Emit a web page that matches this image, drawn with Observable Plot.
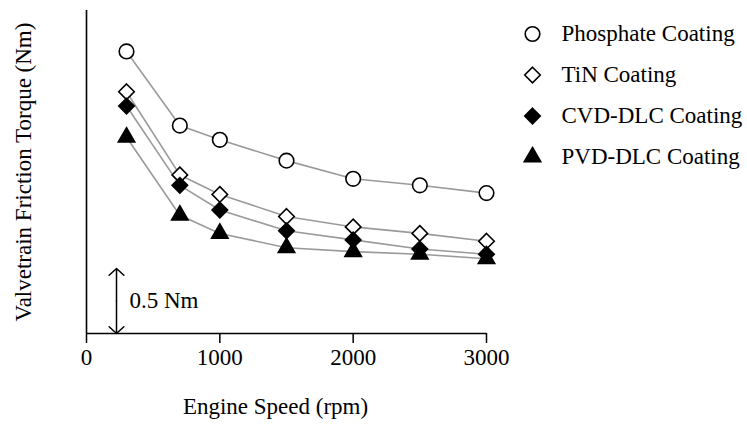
<!DOCTYPE html>
<html>
<head>
<meta charset="utf-8">
<script src="https://cdn.jsdelivr.net/npm/d3@7"></script>
<script src="https://cdn.jsdelivr.net/npm/@observablehq/plot@0.6"></script>
<style>
  html, body { margin: 0; padding: 0; background: #fff; }
  #wrap { position: relative; width: 747px; height: 425px; }
  #legend { position: absolute; left: 520px; top: 11px; }
</style>
</head>
<body>
<div id="wrap"><div id="chart"></div><div id="legend"></div></div>
<script>
const speeds = [300, 700, 1000, 1500, 2000, 2500, 3000];
const coatings = ["Phosphate Coating", "TiN Coating", "CVD-DLC Coating", "PVD-DLC Coating"];
const phosphate = [2.17, 1.60, 1.49, 1.33, 1.19, 1.14, 1.08];
const tin       = [1.86, 1.22, 1.07, 0.90, 0.82, 0.77, 0.71];
const cvd       = [1.75, 1.14, 0.95, 0.79, 0.72, 0.65, 0.61];
const pvd       = [1.51, 0.91, 0.77, 0.66, 0.63, 0.61, 0.575];
const xTicks = [0, 1000, 2000, 3000];
const xLabel = "Engine Speed (rpm)";
const yLabel = "Valvetrain Friction Torque (Nm)";
const scaleBar = {speed: 225, from: 0, to: 0.5, label: "0.5 Nm"};

const symbols = ["circle", "diamond2", "diamond2", "triangle"];
const fills = ["white", "white", "black", "black"];
const sizes = [7.3, 7.0, 7.0, 6.1];

const seriesValues = [phosphate, tin, cvd, pvd];
const rows = coatings.flatMap((c, i) =>
  speeds.map((s, j) => ({coating: c, speed: s, torque: seriesValues[i][j], idx: i})));

const font = "'Liberation Serif', 'Times New Roman', serif";

const chart = Plot.plot({
  width: 747,
  height: 425,
  marginLeft: 86,
  marginRight: 261,
  marginTop: 10,
  marginBottom: 92,
  style: {fontFamily: font, fontSize: "23px", color: "black", background: "white"},
  x: {domain: [0, 3000]},
  y: {domain: [0, 2.485], axis: null},
  marks: [
    Plot.line(rows, {x: "speed", y: "torque", z: "coating", stroke: "#9a9a9a", strokeWidth: 1.6}),
    ...coatings.map((c, i) =>
      Plot.dot(rows.filter(d => d.idx === i), {
        x: "speed", y: "torque", symbol: () => symbols[i], r: sizes[i],
        fill: fills[i], stroke: "black", strokeWidth: 1.6
      })),
    Plot.ruleX([0], {stroke: "black", strokeWidth: 1.6}),
    Plot.ruleY([0], {stroke: "black", strokeWidth: 1.6}),
    Plot.axisX({ticks: xTicks, tickSize: 10, tickPadding: 5, tickFormat: d => String(d),
      label: null, strokeWidth: 1.5}),
    Plot.text([xLabel], {frameAnchor: "bottom", dy: 73, dx: -11, textAnchor: "middle", lineAnchor: "middle", fill: "black"}),
    Plot.text([yLabel], {frameAnchor: "left", rotate: -90, dx: -63, textAnchor: "middle", lineAnchor: "middle", fill: "black"}),
    Plot.arrow([scaleBar], {x: "speed", y1: d => (d.from + d.to) / 2, y2: "to", stroke: "black",
      strokeWidth: 1.5, headAngle: 95, headLength: 10, insetEnd: 0}),
    Plot.arrow([scaleBar], {x: "speed", y1: d => (d.from + d.to) / 2, y2: "from", stroke: "black",
      strokeWidth: 1.5, headAngle: 95, headLength: 10, insetEnd: 0}),
    Plot.text([scaleBar], {x: "speed", y: d => (d.from + d.to) / 2, text: "label", dx: 13,
      textAnchor: "start", lineAnchor: "middle", fill: "black"})
  ]
});
document.getElementById("chart").append(chart);

const legend = Plot.plot({
  width: 227,
  height: 167,
  margin: 0,
  style: {fontFamily: font, fontSize: "23px", color: "black", background: "transparent"},
  x: {axis: null},
  y: {type: "band", domain: coatings, padding: 0, axis: null},
  marks: [
    ...coatings.map((c, i) =>
      Plot.dot([c], {y: d => d, frameAnchor: "left", dx: 12, symbol: () => symbols[i], r: sizes[i],
        fill: fills[i], stroke: "black", strokeWidth: 1.6})),
    Plot.text(coatings, {y: d => d, frameAnchor: "left", dx: 41, text: d => d,
      textAnchor: "start", lineAnchor: "middle", fill: "black"})
  ]
});
document.getElementById("legend").append(legend);
</script>
</body>
</html>
